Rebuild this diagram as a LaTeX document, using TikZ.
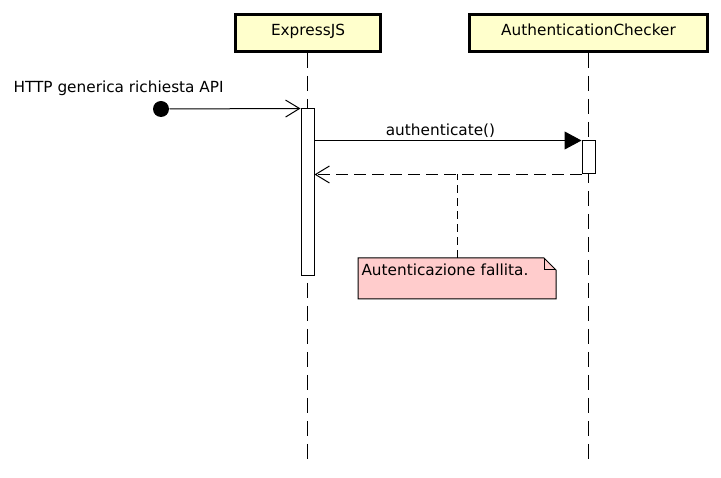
\documentclass[tikz,border=0pt]{standalone}
\usepackage{fontspec}
\setmainfont{DejaVu Sans}
\usetikzlibrary{arrows.meta, backgrounds}
\definecolor{boxyellow}{HTML}{FFFFCC}
\definecolor{notepink}{HTML}{FFCCCC}
\tikzset{
  obj/.style={draw, line width=3pt, fill=boxyellow, minimum height=37pt, inner sep=0pt, text height=11pt, text depth=5pt},
  lifeline/.style={dash pattern=on 15pt off 8pt},
  activ/.style={draw, fill=white, minimum width=13pt, inner sep=0pt},
  call/.style={-{Triangle[length=17pt,width=18pt]}},
  found/.style={-{Straight Barb[length=14pt,width=17pt]}},
  reply/.style={dash pattern=on 12pt off 6pt, -{Straight Barb[length=14pt,width=17pt]}},
  notebox/.style={anchor=north west, inner xsep=3pt, inner ysep=2pt, text width=191pt, text height=15pt, text depth=21pt, align=left},
}
\begin{document}
\begin{tikzpicture}[x=1pt, y=-1pt, line width=1pt, font=\fontsize{15.3}{18}\selectfont]
\useasboundingbox (0,0) rectangle (721,478);
\node[obj, minimum width=145pt] (express) at (308,33) {ExpressJS};
\node[obj, minimum width=238pt] (checker) at (588.5,33) {AuthenticationChecker};
\coordinate (expressend) at (307.5,466);
\coordinate (checkerend) at (588.5,466);

% lifelines first, activations over them
\draw[lifeline] (express.south -| expressend) -- (expressend);
\draw[lifeline] (checker.south -| checkerend) -- (checkerend);
\node[activ, minimum height=167pt] (act1) at (307.5,192.5) {};
\node[activ, minimum height=33pt] (act2) at (588.5,157.5) {};

\node[circle, fill=black, minimum size=16pt, inner sep=0pt] (start) at (161,109) {};
\node[anchor=base west, inner sep=0pt] (httplabel) at (13,93) {HTTP generica richiesta API};
\node[anchor=base, inner sep=0pt] (calllabel) at (440.5,136) {authenticate()};

% messages
\draw[found] (start) -- (act1.north west);
\draw[call] (act1.east |- act2.north west) -- (act2.north west);
\draw[reply] (act2.south west) -- (act1.east |- act2.south west);

% note
\node[notebox] (note) at (358,258) {Autenticazione fallita.};
\begin{scope}[on background layer]
\fill[notepink] (note.north west) -- ([xshift=-12pt]note.north east) -- ([yshift=-12pt]note.north east) -- (note.south east) -- (note.south west) -- cycle;
\end{scope}
\draw[line width=1pt, black] (note.north west) -- ([xshift=-12pt]note.north east) -- ([yshift=-12pt]note.north east) -- (note.south east) -- (note.south west) -- cycle;
\draw ([xshift=-12pt]note.north east) |- ([yshift=-12pt]note.north east);
\draw[dash pattern=on 8pt off 5pt] (note.north) -- (note.north |- act2.south);
\end{tikzpicture}
\end{document}
